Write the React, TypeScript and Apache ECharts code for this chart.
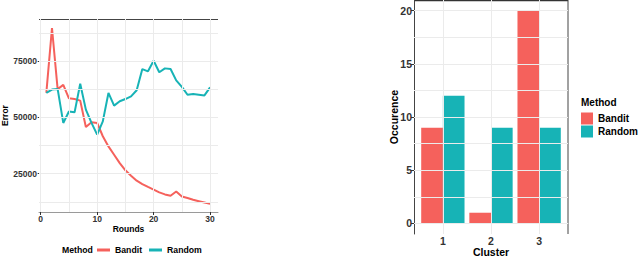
import React, { useEffect, useRef } from "react";
import * as echarts from "echarts";

const rounds = Array.from({ length: 30 }, (_, i) => i + 1);
const banditError = [60800, 89600, 62500, 64400, 58400, 58100, 57400, 45700, 47800, 47500, 41600, 37100, 33400, 29700, 26500, 24100, 21900, 20400, 19100, 17900, 16700, 15800, 15200, 17100, 14900, 14200, 13400, 12800, 12200, 11600];
const randomError = [60800, 62300, 62600, 47500, 52600, 52200, 64900, 53400, 47500, 42300, 48200, 60800, 55200, 57100, 58100, 59300, 62000, 71400, 70400, 75100, 70000, 71700, 71400, 66400, 63500, 60000, 60300, 60000, 59700, 63300];
const clusters = ["1", "2", "3"];
const banditCount = [9, 1, 20];
const randomCount = [12, 9, 9];
const errorTicks = [25000, 50000, 75000];
const errorGrid = [12500, 25000, 37500, 50000, 62500, 75000, 87500];
const roundTicks = [0, 10, 20, 30];
const roundGrid = [0, 5, 10, 15, 20, 25, 30];
const countTicks = [0, 5, 10, 15, 20];
const countGrid = [0, 2.5, 5, 7.5, 10, 12.5, 15, 17.5, 20];
const clusterPos = [1, 2, 3];

const RED = "#F5615C";
const TEAL = "#17B3B6";
const FONT = "'Liberation Sans', Arial, sans-serif";
const GRID = "#EBEBEB";

export default function App() {
  const ref = useRef<HTMLDivElement>(null);
  useEffect(() => {
    if (!ref.current) return;
    const chart = echarts.init(ref.current, undefined, { renderer: "svg" });
    const gl = { silent: true, symbol: "none", label: { show: false }, lineStyle: { color: GRID, width: 1, type: "solid" as const } };
    chart.setOption({
      animation: false,
      textStyle: { fontFamily: FONT },
      grid: [
        { left: 39, top: 19, width: 179, height: 193, outerBoundsMode: "none", containLabel: false },
        { left: 414, top: 0, width: 154, height: 234, outerBoundsMode: "none", containLabel: false },
        { left: 418.8, top: 0, width: 144.4, height: 234, outerBoundsMode: "none", containLabel: false },
      ],
      xAxis: [
        {
          gridIndex: 0, type: "value", min: -0.3, max: 31.4,
          splitLine: { show: false },
          axisLine: { show: true, lineStyle: { color: "#9a9a9a", width: 1 } },
          axisTick: { show: true, customValues: roundTicks, length: 3, lineStyle: { color: "#333" } },
          axisLabel: { customValues: roundTicks, margin: 2, fontSize: 8.5, lineHeight: 9, fontWeight: "bold", color: "#333", fontFamily: FONT },
          name: "Rounds", nameLocation: "middle", nameGap: 12.5, nameMoveOverlap: false,
          nameTextStyle: { fontSize: 8.5, lineHeight: 9, fontWeight: "bold", color: "#000", fontFamily: FONT },
        },
        {
          gridIndex: 1, type: "value", min: 0.4, max: 3.6,
          splitLine: { show: false },
          axisLine: { show: true, lineStyle: { color: "#c8c8c8", width: 1 } },
          axisTick: { show: true, customValues: clusterPos, length: 3, lineStyle: { color: "#333" } },
          axisLabel: { customValues: clusterPos, margin: 1.5, fontSize: 10.5, lineHeight: 10.5, fontWeight: "bold", color: "#333", fontFamily: FONT },
          name: "Cluster", nameLocation: "middle", nameGap: 13, nameMoveOverlap: false,
          nameTextStyle: { fontSize: 10.5, lineHeight: 10.5, fontWeight: "bold", color: "#000", fontFamily: FONT },
        },
        {
          gridIndex: 2, type: "category", data: clusters, show: false,
        },
      ],
      yAxis: [
        {
          gridIndex: 0, type: "value", min: 8000, max: 93600,
          splitLine: { show: false },
          axisLine: { show: false },
          axisTick: { show: true, customValues: errorTicks, length: 3, lineStyle: { color: "#333" } },
          axisLabel: { customValues: errorTicks, formatter: (v: number) => String(v), margin: 2, fontSize: 8.5, fontWeight: "bold", color: "#333", fontFamily: FONT },
          name: "Error", nameLocation: "middle", nameGap: 29.5, nameMoveOverlap: false,
          nameTextStyle: { fontSize: 8.5, lineHeight: 9, fontWeight: "bold", color: "#000", fontFamily: FONT },
        },
        {
          gridIndex: 1, type: "value", min: -1, max: 21,
          splitLine: { show: false },
          axisLine: { show: true, lineStyle: { color: "#444", width: 1 } },
          axisTick: { show: true, customValues: countTicks, length: 3, lineStyle: { color: "#333" } },
          axisLabel: { customValues: countTicks, margin: 2, fontSize: 10.5, fontWeight: "bold", color: "#333", fontFamily: FONT },
          name: "Occurence", nameLocation: "middle", nameGap: 15, nameMoveOverlap: false,
          nameTextStyle: { fontSize: 10.5, lineHeight: 10.5, fontWeight: "bold", color: "#000", fontFamily: FONT },
        },
        { gridIndex: 2, type: "value", min: -1, max: 21, show: false },
      ],
      legend: [
        {
          data: ["Bandit", "Random"], orient: "horizontal", left: 97, top: 245.5, padding: 0,
          icon: "rect", itemWidth: 13, itemHeight: 3, itemGap: 7,
          textStyle: { fontSize: 8.7, fontWeight: "bold", color: "#000", fontFamily: FONT },
        },
        {
          data: ["Bandit ", "Random "], orient: "vertical", left: 581, top: 112.5, padding: 0,
          icon: "rect", itemWidth: 12, itemHeight: 12, itemGap: 1,
          formatter: (n: string) => n.trim(),
          textStyle: { fontSize: 10, fontWeight: "bold", color: "#000", fontFamily: FONT },
        },
      ],
      graphic: [
        { type: "line", shape: { x1: 39, y1: 19.5, x2: 218, y2: 19.5 }, style: { stroke: "#444", lineWidth: 1 } },
        { type: "line", shape: { x1: 414, y1: 0.5, x2: 568, y2: 0.5 }, style: { stroke: "#333", lineWidth: 1.5 } },
        { type: "line", shape: { x1: 568, y1: 0, x2: 568, y2: 234 }, style: { stroke: "#444", lineWidth: 1 } },
        { type: "text", x: 62, y: 250, style: { text: "Method", fontSize: 8.7, fontWeight: "bold", fill: "#000", font: `bold 8.7px ${FONT}`, verticalAlign: "middle" } },
        { type: "text", x: 581, y: 102, style: { text: "Method", fontSize: 10, fontWeight: "bold", fill: "#000", font: `bold 10px ${FONT}`, verticalAlign: "middle" } },
      ],
      series: [
        {
          type: "line", xAxisIndex: 0, yAxisIndex: 0, data: [], z: 0, silent: true,
          markLine: { ...gl, data: [...errorGrid.map((v) => ({ yAxis: v })), ...roundGrid.map((v) => ({ xAxis: v }))] },
        },
        {
          type: "line", xAxisIndex: 1, yAxisIndex: 1, data: [], z: 0, silent: true,
          markLine: { ...gl, data: [...countGrid.map((v) => ({ yAxis: v })), ...clusterPos.map((v) => ({ xAxis: v }))] },
        },
        {
          name: "Bandit", type: "line", xAxisIndex: 0, yAxisIndex: 0, symbol: "none", z: 3,
          data: rounds.map((r, i) => [r, banditError[i]]),
          lineStyle: { color: RED, width: 2 }, itemStyle: { color: RED },
        },
        {
          name: "Random", type: "line", xAxisIndex: 0, yAxisIndex: 0, symbol: "none", z: 4,
          data: rounds.map((r, i) => [r, randomError[i]]),
          lineStyle: { color: TEAL, width: 2 }, itemStyle: { color: TEAL },
        },
        {
          name: "Bandit ", type: "bar", xAxisIndex: 2, yAxisIndex: 2, data: banditCount,
          barWidth: "45%", barGap: "0%", itemStyle: { color: RED }, z: 3,
        },
        {
          name: "Random ", type: "bar", xAxisIndex: 2, yAxisIndex: 2, data: randomCount,
          barWidth: "45%", barGap: "0%", itemStyle: { color: TEAL }, z: 3,
        },
      ],
    });
    return () => chart.dispose();
  }, []);
  return <div ref={ref} style={{ position: "absolute", left: 0, top: 0, width: 640, height: 257 }} />;
}
